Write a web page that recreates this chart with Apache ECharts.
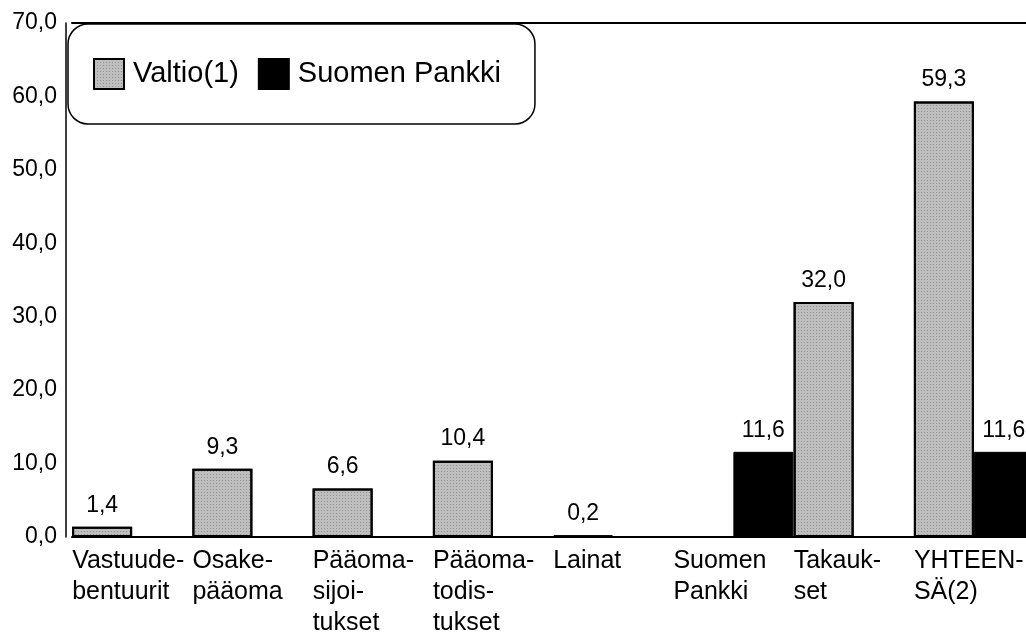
<!DOCTYPE html>
<html>
<head>
<meta charset="utf-8">
<script src="https://cdn.jsdelivr.net/npm/echarts@6/dist/echarts.min.js"></script>
<style>
  html, body { margin: 0; padding: 0; background: #fff; }
  #chart { width: 1026px; height: 637px; }
</style>
</head>
<body>
<div id="chart"></div>
<script>
// luokat (rivinvaihdot kuten alkuperäisessä kuvassa)
var categories = [
  'Vastuude-\nbentuurit',
  'Osake-\npääoma',
  'Pääoma-\nsijoi-\ntukset',
  'Pääoma-\ntodis-\ntukset',
  'Lainat',
  'Suomen\nPankki',
  'Takauk-\nset',
  'YHTEEN-\nSÄ(2)'
];
var valtio = [1.4, 9.3, 6.6, 10.4, 0.2, null, 32.0, 59.3];
var suomenPankki = [null, null, null, null, null, 11.6, null, 11.6];
var yTicks = [0, 10, 20, 30, 40, 50, 60, 70];

var FONT = '"Liberation Sans", Arial, Helvetica, sans-serif';

function fmt(v) {
  return Number(v).toFixed(1).replace('.', ',');
}

var chart = echarts.init(document.getElementById('chart'));

var valueLabel = {
  show: true,
  position: 'top',
  distance: 10,
  color: '#000',
  fontFamily: FONT,
  fontSize: 23,
  formatter: function (p) { return fmt(p.value); }
};

var option = {
  animation: false,
  backgroundColor: '#fff',
  textStyle: { fontFamily: FONT, color: '#000' },
  // ruudukko jatkuu oikean reunan yli, kuten alkuperäisessä
  grid: { left: 72, width: 962, top: 23, bottom: 100, outerBoundsMode: 'none', containLabel: false },
  legend: {
    left: 68,
    top: 24,
    padding: [34, 34, 34, 25],
    itemGap: 19,
    itemWidth: 30,
    itemHeight: 30,
    borderColor: '#000',
    borderWidth: 1.5,
    borderRadius: 20,
    backgroundColor: '#fff',
    textStyle: { fontFamily: FONT, fontSize: 29, color: '#000', padding: [0, 0, 0, 4] },
    data: [
      { name: 'Valtio(1)', icon: 'rect' },
      { name: 'Suomen Pankki', icon: 'rect' }
    ]
  },
  xAxis: [{
    type: 'category',
    data: categories,
    axisLine: { lineStyle: { color: '#000', width: 2 } },
    axisTick: { show: false },
    axisLabel: {
      interval: 0,
      hideOverlap: false,
      margin: 9,
      formatter: function (v) {
        return v.split('\n').map(function (s) { return '{a|' + s + '}'; }).join('\n');
      },
      rich: {
        a: {
          width: 120,
          align: 'left',
          fontFamily: FONT,
          fontSize: 25,
          lineHeight: 31,
          color: '#000'
        }
      }
    }
  }, {
    type: 'category',
    position: 'top',
    data: categories,
    axisLine: { lineStyle: { color: '#000', width: 2 } },
    axisTick: { show: false },
    axisLabel: { show: false }
  }],
  yAxis: {
    type: 'value',
    min: 0,
    max: 70,
    interval: 10,
    offset: 6,
    axisLine: { show: true, lineStyle: { color: '#000', width: 1.5 } },
    axisTick: { show: false },
    splitLine: { show: false },
    axisLabel: {
      margin: 9,
      fontFamily: FONT,
      fontSize: 23,
      color: '#000',
      formatter: function (v) { return fmt(v); }
    }
  },
  series: [{
    name: 'Valtio(1)',
    type: 'bar',
    data: valtio,
    barWidth: 60,
    barGap: '0%',
    itemStyle: {
      color: '#bebebe',
      borderColor: '#000',
      borderWidth: 2,
      decal: {
        symbol: 'rect',
        symbolSize: 1,
        color: 'rgba(0,0,0,0.22)',
        dashArrayX: [1, 2],
        dashArrayY: [1, 2],
        rotation: 0
      }
    },
    label: valueLabel
  }, {
    name: 'Suomen Pankki',
    type: 'bar',
    data: suomenPankki,
    barWidth: 60,
    barGap: '0%',
    itemStyle: { color: '#000', borderColor: '#000', borderWidth: 1 },
    label: valueLabel
  }]
};

chart.setOption(option);
</script>
</body>
</html>
